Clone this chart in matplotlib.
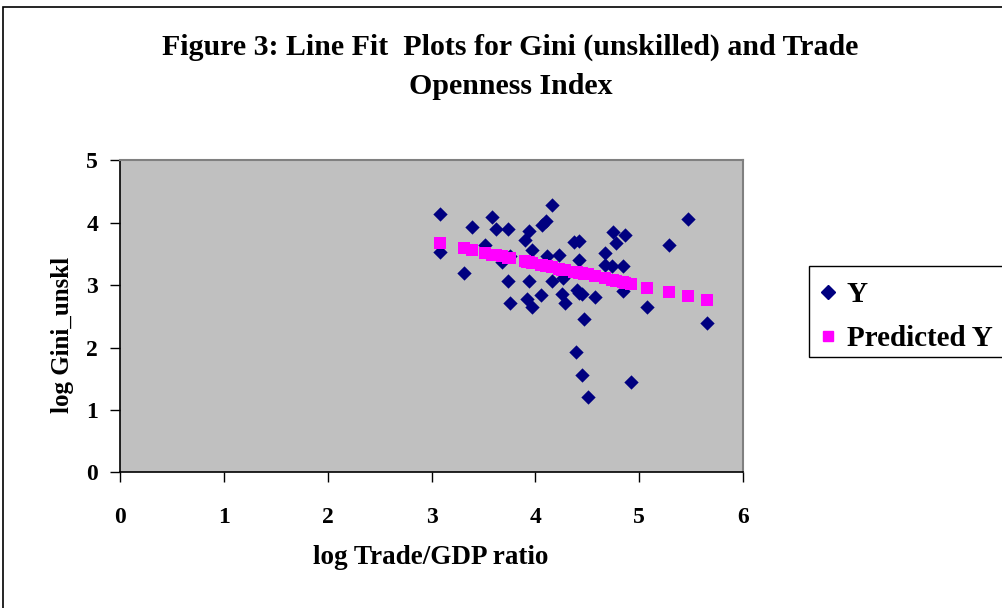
import matplotlib
matplotlib.use("Agg")
import matplotlib.pyplot as plt
from matplotlib.patches import Rectangle
from matplotlib.lines import Line2D

# ---- data ----
x_trade = [3.08, 3.08, 3.31, 3.39, 3.58, 3.62, 3.74, 3.52, 3.68, 3.74, 3.76, 3.76,
           4.16, 4.10, 4.07, 3.94, 3.90, 3.97, 4.37, 4.42, 4.23, 4.42, 4.11, 3.94,
           4.16, 4.27, 4.06, 3.92, 3.97, 4.26, 4.29, 4.42, 4.45, 4.58, 4.47, 4.40,
           4.75, 4.87, 4.78, 4.67, 4.67, 4.74, 4.85, 4.85, 5.08, 5.29, 5.47, 5.66,
           4.39, 4.45, 4.51, 4.92]
y_gini = [4.14, 3.53, 3.20, 3.93, 4.09, 3.90, 3.90, 3.65, 3.37, 3.07, 2.71, 3.46,
          4.28, 4.02, 3.97, 3.87, 3.73, 3.57, 3.69, 3.71, 3.49, 3.40, 3.46, 3.07,
          3.07, 3.11, 2.84, 2.77, 2.65, 2.86, 2.71, 2.88, 2.85, 2.81, 2.46, 2.92,
          3.85, 3.80, 3.68, 3.52, 3.32, 3.30, 3.30, 2.90, 2.65, 3.64, 4.06, 2.40,
          1.92, 1.56, 1.20, 1.44]
y_pred = [3.67, 3.67, 3.59, 3.56, 3.49, 3.48, 3.44, 3.51, 3.46, 3.44, 3.43, 3.43,
          3.29, 3.31, 3.32, 3.37, 3.38, 3.36, 3.21, 3.20, 3.26, 3.20, 3.31, 3.37,
          3.29, 3.25, 3.32, 3.37, 3.36, 3.25, 3.24, 3.20, 3.19, 3.14, 3.18, 3.21,
          3.08, 3.04, 3.07, 3.11, 3.11, 3.08, 3.05, 3.05, 2.96, 2.89, 2.83, 2.76,
          3.21, 3.19, 3.17, 3.02]
x_ticks = [0, 1, 2, 3, 4, 5, 6]
y_ticks = [0, 1, 2, 3, 4, 5]
title_lines = ["Figure 3: Line Fit  Plots for Gini (unskilled) and Trade",
               "Openness Index"]
x_label = "log Trade/GDP ratio"
y_label = "log Gini_unskl"
series_names = ["Y", "Predicted Y"]

plt.rcParams['font.family'] = ['Liberation Serif', 'DejaVu Serif']
plt.rcParams['font.weight'] = 'bold'

W, H = 1002, 608
fig = plt.figure(figsize=(W / 100, H / 100), dpi=100)
fig.patch.set_facecolor('white')

# outer frame of the chart (left/top visible)
fig.patches.append(Rectangle((3 / W, -0.2), 1.5, 1.2 - 7 / H,
                             transform=fig.transFigure, fill=False,
                             edgecolor='black', linewidth=1.2))

ax = fig.add_axes([120.3 / W, 1 - 472.3 / H, (742.7 - 120.3) / W, (472.3 - 160.3) / H])
ax.set_facecolor('#C0C0C0')
ax.set_xlim(0, 6)
ax.set_ylim(0, 5)

ax.scatter(x_trade, y_gini, marker='D', s=7.3 ** 2, color='#000080',
           linewidths=0, zorder=3, label=series_names[0])
ax.scatter(x_trade, y_pred, marker='s', s=8.8 ** 2, color='#FF00FF',
           linewidths=0, zorder=4, label=series_names[1])

ax.set_xticks(x_ticks)
ax.set_yticks(y_ticks)
ax.set_xticklabels([str(v) for v in x_ticks], fontsize=17, fontweight='bold')
ax.set_yticklabels([str(v) for v in y_ticks], fontsize=17, fontweight='bold')
ax.tick_params(axis='x', direction='out', length=7, width=1, pad=18, color='black')
ax.tick_params(axis='y', direction='out', length=7, width=1, pad=9, color='black')

for s in ['left', 'bottom']:
    ax.spines[s].set_color('black')
    ax.spines[s].set_linewidth(1.2)
for s in ['top', 'right']:
    ax.spines[s].set_color('#808080')
    ax.spines[s].set_linewidth(1.5)

# titles and labels
fig.text(510 / W, 1 - 47 / H, title_lines[0], ha='center', va='center',
         fontsize=21.5, fontweight='bold')
fig.text(511 / W, 1 - 86 / H, title_lines[1], ha='center', va='center',
         fontsize=21.5, fontweight='bold')
fig.text(431 / W, 1 - 558 / H, x_label, ha='center', va='center',
         fontsize=19.5, fontweight='bold')
fig.text(62 / W, 1 - 335 / H, y_label, ha='center', va='center', rotation=90,
         fontsize=18, fontweight='bold')

# legend box (frame drawn separately, extends past the right edge)
fig.patches.append(Rectangle((809 / W, 1 - 357 / H), 1.0, (357 - 266) / H,
                             transform=fig.transFigure, facecolor='white',
                             edgecolor='black', linewidth=1.0, zorder=5))
handles = [Line2D([], [], marker='D', linestyle='none', color='#000080', markersize=7),
           Line2D([], [], marker='s', linestyle='none', color='#FF00FF', markersize=7.5)]
leg = fig.legend(handles, series_names, loc='upper left',
                 bbox_to_anchor=(819 / W, 1 - 281 / H), frameon=False,
                 prop={'family': 'Liberation Serif', 'weight': 'bold', 'size': 21},
                 handlelength=0.6, handletextpad=0.35, borderpad=0, labelspacing=0.58,
                 borderaxespad=0)
leg.set_zorder(6)

fig.savefig('out.png', dpi=100)
